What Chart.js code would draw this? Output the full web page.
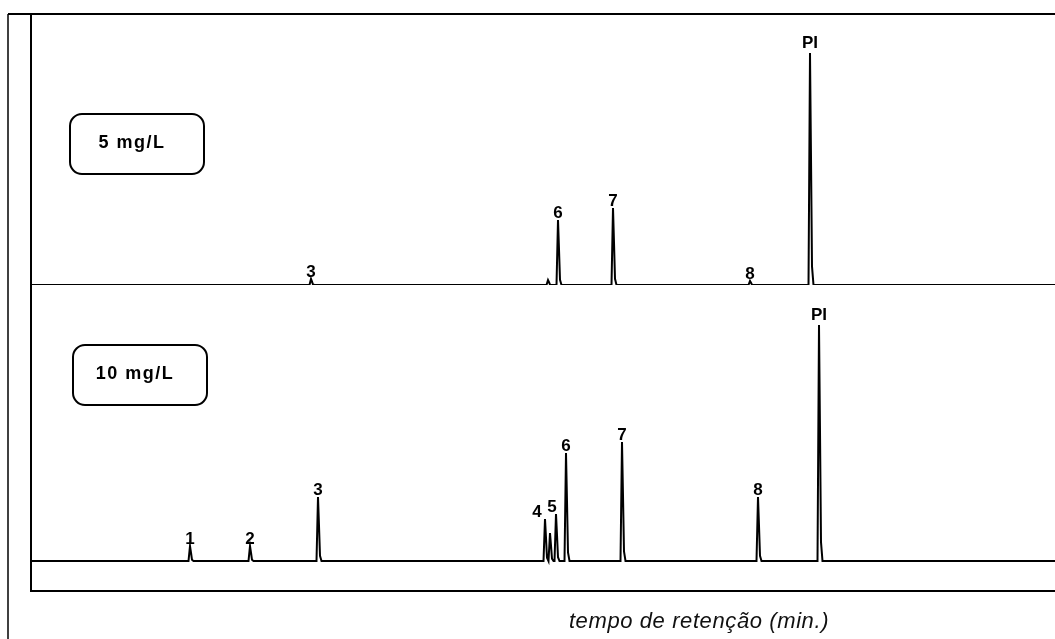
<!DOCTYPE html>
<html>
<head>
<meta charset="utf-8">
<script src="https://cdn.jsdelivr.net/npm/chart.js@4.4.0/dist/chart.umd.min.js"></script>
<style>
  html, body { margin: 0; padding: 0; background: #fff; }
  #wrap { width: 1055px; height: 639px; }
</style>
</head>
<body>
<div id="wrap"><canvas id="chromChart"></canvas></div>
<script>
// retention time in arbitrary units, 0 = left edge of the plot
const timeRange = [0, 1024];

// 5 mg/L run
const lowLabels = ['3', '', '6', '7', '8', 'PI'];
const lowTimes = [280, 517, 527, 582, 719, 779];
const lowHeights = [6, 5, 65, 77, 4, 232];

// 10 mg/L run
const highLabels = ['1', '2', '3', '4', '', '5', '6', '7', '8', 'PI'];
const highTimes = [159, 219, 287, 514, 519, 525, 535, 591, 727, 788];
const highHeights = [15, 15, 64, 42, 28, 47, 108, 119, 64, 236];

const panelNames = ['5 mg/L', '10 mg/L'];
const axisTitle = 'tempo de retenção (min.)';

// one narrow spike with a bit of tailing per peak
function trace(times, heights) {
  const pts = [{ x: timeRange[0], y: 0 }];
  times.forEach((t, i) => {
    const h = heights[i];
    pts.push({ x: t - 1.5, y: 0 }, { x: t, y: h }, { x: t + 1, y: h * 0.55 },
             { x: t + 2, y: h * 0.08 }, { x: t + 3.5, y: 0 });
  });
  pts.push({ x: timeRange[1], y: 0 });
  return pts;
}

const hiddenAxis = {
  ticks: { display: false },
  grid: { display: false, drawTicks: false },
  border: { display: true, color: '#000', width: 2 }
};

const decorations = {
  id: 'decorations',
  afterDraw(chart) {
    const { ctx, chartArea, scales } = chart;
    const x = scales.x;
    ctx.save();
    ctx.strokeStyle = '#000';

    // outer frame
    ctx.lineWidth = 2;
    ctx.beginPath();
    ctx.moveTo(chartArea.left - 23, chartArea.top);
    ctx.lineTo(chartArea.right, chartArea.top);
    ctx.stroke();
    ctx.lineWidth = 1.5;
    ctx.beginPath();
    ctx.moveTo(chartArea.left - 23, chartArea.top);
    ctx.lineTo(chartArea.left - 23, chart.height);
    ctx.stroke();

    // concentration boxes
    const boxes = [
      { name: panelNames[0], axis: scales.yTop, dx: 39, dy: 100 },
      { name: panelNames[1], axis: scales.yBottom, dx: 42, dy: 60 }
    ];
    ctx.lineWidth = 2;
    boxes.forEach(b => {
      const bx = chartArea.left + b.dx, by = b.axis.top + b.dy;
      ctx.beginPath();
      ctx.roundRect(bx, by, 134, 60, 12);
      ctx.stroke();
      ctx.fillStyle = '#000';
      ctx.font = 'bold 18px "Liberation Sans", Arial, sans-serif';
      ctx.letterSpacing = '1.5px';
      ctx.textAlign = 'center';
      ctx.textBaseline = 'middle';
      ctx.fillText(b.name, bx + 62, by + 29);
    });
    ctx.letterSpacing = '0px';

    // peak numbers
    const shift = { '4': -8, '5': -4 };
    ctx.font = 'bold 17px "Liberation Sans Narrow", "Liberation Sans", Arial, sans-serif';
    ctx.textAlign = 'center';
    ctx.textBaseline = 'alphabetic';
    const runs = [
      { labels: lowLabels, times: lowTimes, heights: lowHeights, axis: scales.yTop },
      { labels: highLabels, times: highTimes, heights: highHeights, axis: scales.yBottom }
    ];
    runs.forEach(r => {
      r.labels.forEach((lab, i) => {
        if (!lab) return;
        const px = x.getPixelForValue(r.times[i]) + (shift[lab] || 0);
        const py = r.axis.getPixelForValue(r.heights[i]) - (lab === 'PI' ? 5 : 2);
        ctx.fillText(lab, px, py);
      });
    });

    // axis title
    ctx.font = 'italic 22px "Liberation Sans", Arial, sans-serif';
    ctx.letterSpacing = '0.6px';
    ctx.fillStyle = '#111';
    ctx.fillText(axisTitle, x.getPixelForValue(668), chartArea.bottom + 37);
    ctx.restore();
  }
};

const chart = new Chart(document.getElementById('chromChart'), {
  type: 'line',
  data: {
    datasets: [
      { label: panelNames[0], data: trace(lowTimes, lowHeights), yAxisID: 'yTop' },
      { label: panelNames[1], data: trace(highTimes, highHeights), yAxisID: 'yBottom' }
    ]
  },
  options: {
    responsive: true,
    maintainAspectRatio: false,
    animation: false,
    layout: { padding: { left: 31, top: 14, right: 0, bottom: 48 } },
    elements: {
      line: { borderColor: '#000', borderWidth: 2, tension: 0 },
      point: { radius: 0 }
    },
    scales: {
      x: { type: 'linear', min: timeRange[0], max: timeRange[1], ...hiddenAxis },
      yBottom: { type: 'linear', position: 'left', stack: 'runs', stackWeight: 306, min: -30, max: 276, ...hiddenAxis },
      yTop: { type: 'linear', position: 'left', stack: 'runs', stackWeight: 271, min: 0, max: 271, ...hiddenAxis }
    },
    plugins: {
      legend: { display: false },
      tooltip: { enabled: false }
    }
  },
  plugins: [decorations]
});
</script>
</body>
</html>
